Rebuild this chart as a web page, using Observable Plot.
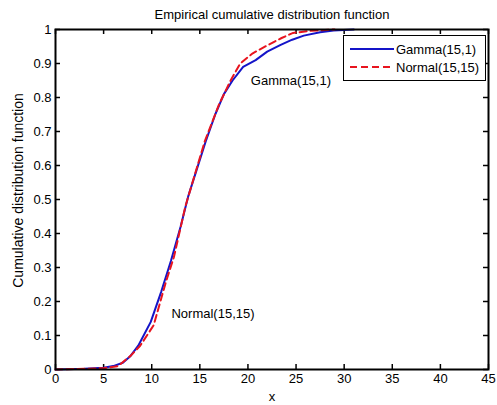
<!DOCTYPE html>
<html>
<head>
<meta charset="utf-8">
<script src="https://cdn.jsdelivr.net/npm/d3@7"></script>
<script src="https://cdn.jsdelivr.net/npm/@observablehq/plot@0.6"></script>
<style>
  body { margin: 0; background: #fff; font-family: "Liberation Sans", Arial, sans-serif; }
  #chart { position: relative; width: 497px; height: 405px; }
  .legend {
    position: absolute; left: 343px; top: 35px; width: 143px; height: 46px;
    box-sizing: border-box; border: 1.5px solid #000; background: #fff;
    font-size: 13px; color: #000;
  }
  .legend .row { position: absolute; left: 0; height: 16px; display: flex; align-items: center; }
  .legend svg { display: block; margin-left: 6px; margin-right: 2px; }
</style>
</head>
<body>
<div id="chart"></div>
<script>
// Empirical CDF of a Gamma(15,1) sample
const gammaX = [0, 3, 5, 6, 7, 7.8, 8.6, 9.9, 11, 12, 13, 13.8, 14.7, 15.6, 16.6, 17.5, 18.4, 19.5, 20.8, 22, 23.4, 24.6, 25.8, 27.5, 28.9, 31];
const gammaF = [0, 0.002, 0.005, 0.01, 0.02, 0.04, 0.07, 0.14, 0.23, 0.32, 0.42, 0.51, 0.59, 0.67, 0.75, 0.81, 0.85, 0.89, 0.91, 0.935, 0.955, 0.97, 0.982, 0.992, 0.997, 1];

// Empirical CDF of a Normal(15,15) sample
const normalX = [0, 3, 5, 6.5, 7.8, 8.8, 10.2, 11.5, 12.3, 13.5, 15.5, 17, 18.2, 19.2, 20.5, 22, 23.5, 24.7, 26.5, 29];
const normalF = [0, 0.002, 0.004, 0.01, 0.04, 0.07, 0.13, 0.26, 0.33, 0.48, 0.67, 0.78, 0.85, 0.9, 0.93, 0.953, 0.975, 0.99, 0.996, 1];

const seriesNames = ["Gamma(15,1)", "Normal(15,15)"];
const seriesColors = ["#1414c8", "#e8141e"];

// In-plot annotations
const notes = [
  {x: 20.3, F: 0.85, text: "Gamma(15,1)"},
  {x: 12.05, F: 0.165, text: "Normal(15,15)"}
];

const xTicks = [0, 5, 10, 15, 20, 25, 30, 35, 40, 45];
const yTicks = [0, 0.1, 0.2, 0.3, 0.4, 0.5, 0.6, 0.7, 0.8, 0.9, 1];

const titleText = "Empirical cumulative distribution function";
const xLabel = "x";
const yLabel = "Cumulative distribution function";

const W = 497, H = 405;
const mTop = 29, mRight = 9, mBottom = 36, mLeft = 55;
const innerW = W - mLeft - mRight, innerH = H - mTop - mBottom;
const tickLen = 5;
const fmt = d3.format("~g");

const gamma = gammaX.map((x, i) => ({x, F: gammaF[i]}));
const normal = normalX.map((x, i) => ({x, F: normalF[i]}));

const chart = Plot.plot({
  width: W, height: H,
  marginTop: mTop, marginRight: mRight, marginBottom: mBottom, marginLeft: mLeft,
  style: {fontFamily: '"Liberation Sans", Arial, sans-serif', fontSize: "13px", color: "#000", background: "transparent"},
  x: {domain: [0, 45]},
  y: {domain: [0, 1]},
  marks: [
    // inward ticks on all four sides
    Plot.tickX(xTicks, {x: d => d, insetTop: innerH - tickLen, stroke: "#000", strokeWidth: 1.5}),
    Plot.tickX(xTicks, {x: d => d, insetBottom: innerH - tickLen, stroke: "#000", strokeWidth: 1.5}),
    Plot.tickY(yTicks, {y: d => d, insetRight: innerW - tickLen, stroke: "#000", strokeWidth: 1.5}),
    Plot.tickY(yTicks, {y: d => d, insetLeft: innerW - tickLen, stroke: "#000", strokeWidth: 1.5}),
    Plot.axisX(xTicks, {tickSize: 0, tickPadding: 4, label: null, tickFormat: fmt, fontSize: 13}),
    Plot.axisY(yTicks, {tickSize: 0, tickPadding: 4, label: null, tickFormat: fmt, fontSize: 13}),
    // curves
    Plot.line(gamma, {x: "x", y: "F", stroke: seriesColors[0], strokeWidth: 2}),
    Plot.line(normal, {x: "x", y: "F", stroke: seriesColors[1], strokeWidth: 2, strokeDasharray: "7,4"}),
    Plot.frame({stroke: "#000", strokeWidth: 2}),
    // annotations
    Plot.text(notes, {x: "x", y: "F", text: "text", textAnchor: "start", fill: "#000", fontSize: 13}),
    // title and axis labels
    Plot.text([titleText], {frameAnchor: "top", lineAnchor: "middle", dy: -15, fill: "#000", fontSize: 13}),
    Plot.text([xLabel], {frameAnchor: "bottom", lineAnchor: "middle", dy: 27, fill: "#000", fontSize: 13}),
    Plot.text([yLabel], {frameAnchor: "left", textAnchor: "middle", lineAnchor: "middle", dx: -37, dy: -9, rotate: -90, fill: "#000", fontSize: 14})
  ]
});

const root = document.getElementById("chart");
root.appendChild(chart);

// legend box
const legend = document.createElement("div");
legend.className = "legend";
seriesNames.forEach((name, i) => {
  const row = document.createElement("div");
  row.className = "row";
  row.style.top = (i === 0 ? 5 : 23) + "px";
  const dash = i === 1 ? ' stroke-dasharray="7,4"' : "";
  row.innerHTML = `<svg width="44" height="4"><line x1="0" y1="2" x2="44" y2="2" stroke="${seriesColors[i]}" stroke-width="2"${dash}/></svg><span>${name}</span>`;
  legend.appendChild(row);
});
root.appendChild(legend);
</script>
</body>
</html>
